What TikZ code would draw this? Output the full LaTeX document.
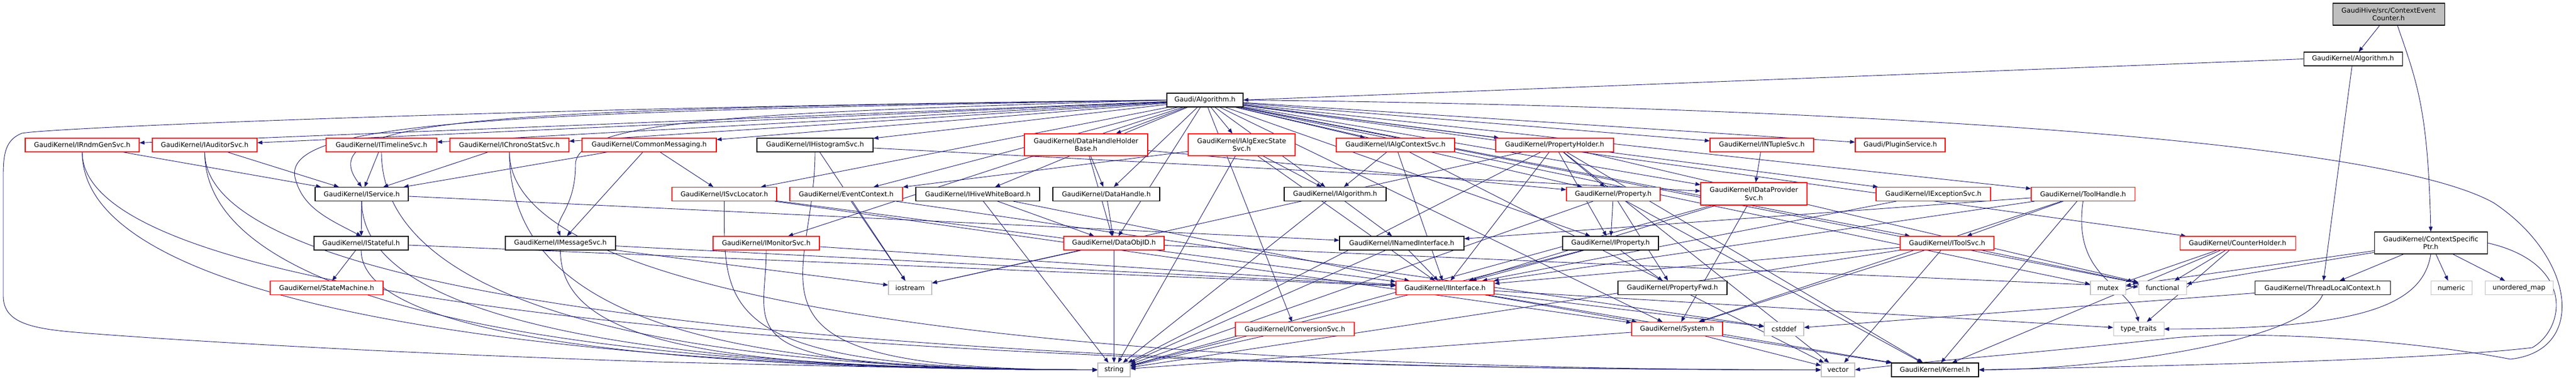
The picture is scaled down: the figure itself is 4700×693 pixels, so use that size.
\documentclass[tikz,border=0pt]{standalone}
\usepackage{fontspec}
\setmainfont{DejaVu Sans}
\usetikzlibrary{arrows.meta}
\definecolor{edgec}{HTML}{191970}
\definecolor{rootfill}{HTML}{BFBFBF}
\definecolor{graybd}{HTML}{BFBFBF}
\pgfdeclarelayer{bgfill}
\pgfdeclarelayer{bg}
\pgfsetlayers{bgfill,bg,main}
\newcommand\tostrl[2][260]{\draw[e] (#2.south) .. controls +(0,-#1) and +(-700,0) .. (string.west);}
\newcommand\tovecl[2][300]{\draw[e] (#2.south) .. controls +(0,-#1) and +(-900,0) .. (vector.west);}
\begin{document}
\begin{tikzpicture}[x=1pt,y=1pt,
  nb/.style={draw=black, fill=white, line width=1.1pt, minimum height=25pt, inner sep=1pt,
             font=\fontsize{12.2}{14.5}\selectfont, align=center},
  nr/.style={nb, draw=red},
  ng/.style={nb, draw=graybd},
  e/.style={draw=edgec, line width=0.9pt, -{Triangle[length=9pt,width=7pt]}}]
\begin{pgfonlayer}{bgfill}
\fill[white] (0,0) rectangle (4700,-693);
\end{pgfonlayer}
\useasboundingbox (0,0) rectangle (4700,-693);
% top
\node[nb, fill=rootfill, minimum width=204pt, minimum height=40pt] (CEC) at (4358,-26) {GaudiHive/src/ContextEvent\\Counter.h};
\node[nb, minimum width=180pt] (GKAlg) at (4293,-107.5) {GaudiKernel/Algorithm.h};
\node[nb, minimum width=139pt] (GAlg) at (2198.5,-182.5) {Gaudi/Algorithm.h};
% row 1
\node[nr, minimum width=208pt] (RndmGen) at (150,-264.5) {GaudiKernel/IRndmGenSvc.h};
\node[nr, minimum width=191pt] (Auditor) at (373.5,-264.5) {GaudiKernel/IAuditorSvc.h};
\node[nr, minimum width=202pt] (Timeline) at (696,-264.5) {GaudiKernel/ITimelineSvc.h};
\node[nr, minimum width=217pt] (Chrono) at (929.5,-264.5) {GaudiKernel/IChronoStatSvc.h};
\node[nr, minimum width=245pt] (CommonMsg) at (1184.5,-264.5) {GaudiKernel/CommonMessaging.h};
\node[nb, minimum width=212pt] (Histo) at (1487,-264.5) {GaudiKernel/IHistogramSvc.h};
\node[nr, minimum width=225pt, minimum height=40pt] (DHHB) at (1981.5,-264) {GaudiKernel/DataHandleHolder\\Base.h};
\node[nr, minimum width=195pt, minimum height=40pt] (AlgExec) at (2265.5,-264) {GaudiKernel/IAlgExecState\\Svc.h};
\node[nr, minimum width=216pt] (AlgCtx) at (2546,-264.5) {GaudiKernel/IAlgContextSvc.h};
\node[nr, minimum width=215pt] (PropHolder) at (2836.5,-264.5) {GaudiKernel/PropertyHolder.h};
\node[nr, minimum width=189pt] (NTuple) at (3214.5,-264.5) {GaudiKernel/INTupleSvc.h};
\node[nr, minimum width=164pt] (Plugin) at (3467,-264.5) {Gaudi/PluginService.h};
% row 2
\node[nb, minimum width=170pt] (IService) at (660,-354) {GaudiKernel/IService.h};
\node[nr, minimum width=191pt] (SvcLoc) at (1321.5,-354) {GaudiKernel/ISvcLocator.h};
\node[nr, minimum width=206pt] (EvtCtx) at (1544,-354) {GaudiKernel/EventContext.h};
\node[nb, minimum width=226pt] (HiveWB) at (1784,-354) {GaudiKernel/IHiveWhiteBoard.h};
\node[nb, minimum width=195pt] (DataHandle) at (2018.5,-354) {GaudiKernel/DataHandle.h};
\node[nb, minimum width=186pt] (IAlgorithm) at (2436,-354) {GaudiKernel/IAlgorithm.h};
\node[nr, minimum width=171pt] (Property) at (2943.5,-354) {GaudiKernel/Property.h};
\node[nr, minimum width=194pt, minimum height=41pt] (DataProv) at (3200,-353.5) {GaudiKernel/IDataProvider\\Svc.h};
\node[nr, minimum width=209pt] (ExcSvc) at (3527.5,-354) {GaudiKernel/IExceptionSvc.h};
\node[nr, minimum width=189pt] (ToolHandle) at (3800.5,-354) {GaudiKernel/ToolHandle.h};
% row 3
\node[nb, minimum width=172pt] (IStateful) at (659,-443.5) {GaudiKernel/IStateful.h};
\node[nb, minimum width=201pt] (MsgSvc) at (1022.5,-443.5) {GaudiKernel/IMessageSvc.h};
\node[nr, minimum width=194pt] (MonSvc) at (1398,-443.5) {GaudiKernel/IMonitorSvc.h};
\node[nr, minimum width=183pt] (DataObjID) at (2032.5,-443.5) {GaudiKernel/DataObjID.h};
\node[nb, minimum width=227pt] (INamed) at (2557.5,-443.5) {GaudiKernel/INamedInterface.h};
\node[nb, minimum width=175pt] (IProperty) at (2938.5,-443.5) {GaudiKernel/IProperty.h};
\node[nr, minimum width=171pt] (ToolSvc) at (3552.5,-443.5) {GaudiKernel/IToolSvc.h};
\node[nr, minimum width=211pt] (CounterH) at (4082.5,-443.5) {GaudiKernel/CounterHolder.h};
\node[nb, minimum width=206pt, minimum height=40pt] (CSP) at (4435,-443) {GaudiKernel/ContextSpecific\\Ptr.h};
% row 4
\node[nr, minimum width=206pt] (StateM) at (596,-525) {GaudiKernel/StateMachine.h};
\node[ng, minimum width=79pt] (iostream) at (1660.5,-525) {iostream};
\node[nr, minimum width=179pt] (IInterface) at (2636.5,-525) {GaudiKernel/IInterface.h};
\node[nb, minimum width=199pt] (PropFwd) at (3051.5,-525) {GaudiKernel/PropertyFwd.h};
\node[ng, minimum width=64pt] (mutex) at (3846,-525) {mutex};
\node[ng, minimum width=87pt] (functional) at (3945.5,-525) {functional};
\node[nb, minimum width=247pt] (TLC) at (4237.5,-525) {GaudiKernel/ThreadLocalContext.h};
\node[ng, minimum width=75pt] (numeric) at (4472.5,-525) {numeric};
\node[ng, minimum width=124pt] (umap) at (4596,-525) {unordered\_map};
% row 5
\node[nr, minimum width=217pt] (ConvSvc) at (2362.5,-600) {GaudiKernel/IConversionSvc.h};
\node[nr, minimum width=166pt] (System) at (3060,-600) {GaudiKernel/System.h};
\node[ng, minimum width=72pt] (cstddef) at (3255,-600) {cstddef};
\node[ng, minimum width=92pt] (typetraits) at (3902,-600) {type\_traits};
% row 6
\node[ng, minimum width=59pt] (string) at (2032.5,-674.5) {string};
\node[ng, minimum width=61pt] (vector) at (3353.5,-674.5) {vector};
\node[nb, minimum width=159pt] (Kernel) at (3530.5,-674.5) {GaudiKernel/Kernel.h};

\begin{pgfonlayer}{bg}
% top edges
\draw[e] (CEC) -- (GKAlg);
\coordinate (cecb) at (4374,-46);
\draw[e] (cecb) .. controls (4410,-150) and (4430,-200) .. (CSP.north);
\draw[e] (GKAlg.west) -- (GAlg.east);
\draw[e] (GKAlg) -- (TLC);
% Gaudi/Algorithm.h fan
\foreach \t in {RndmGen,Auditor,Timeline,Chrono,CommonMsg,Histo,DHHB,AlgExec,AlgCtx,PropHolder,NTuple,Plugin,SvcLoc,EvtCtx,HiveWB,DataHandle,IAlgorithm,Property,DataProv,ExcSvc,ToolHandle,MonSvc,DataObjID,IProperty,ToolSvc,CounterH,ConvSvc,System,functional,mutex}
  \draw[e] (GAlg) -- (\t);
\draw[e] (GAlg.west) .. controls (900,-200) and (560,-212) .. (IService.north);
\draw[e] (GAlg.west) .. controls (900,-205) and (500,-220) .. (540,-330)
   .. controls (555,-380) and (600,-400) .. (IStateful.north);
\draw[e] (GAlg.west) .. controls (1400,-205) and (1050,-215) .. (1050,-300)
   .. controls (1050,-380) and (1010,-400) .. (MsgSvc.north);
\draw[e] (GAlg.west) .. controls (1000,-195) and (100,-232) .. (40,-243)
   .. controls (10,-255) and (6,-280) .. (6,-320) -- (6,-540)
   .. controls (6,-590) and (60,-600) .. (150,-607)
   .. controls (250,-615) and (600,-640) .. (1200,-660)
   .. controls (1600,-670) and (1800,-673) .. (string.west);
\draw[e] (GAlg.east) .. controls (3000,-190) and (4300,-230) .. (4550,-370)
   .. controls (4700,-470) and (4720,-640) .. (4580,-655)
   .. controls (4400,-620) and (4100,-600) .. (3950,-618)
   .. controls (3700,-645) and (3500,-660) .. (vector.east);
% row 1 sources
\draw[e] (RndmGen) -- (IService);
\tostrl[330]{RndmGen}
\tovecl[360]{RndmGen}
\draw[e] (Auditor) -- (IService);
\tostrl[330]{Auditor}
\tovecl[360]{Auditor}
\draw[e] (Timeline) -- (IService);
\tostrl[300]{Timeline}
\draw[e] (Chrono) -- (IService);
\tostrl[300]{Chrono}
\tovecl[340]{Chrono}
\draw[e] (CommonMsg) -- (IService);
\draw[e] (CommonMsg) -- (SvcLoc);
\draw[e] (CommonMsg) -- (MsgSvc);
\draw[e] (Histo) -- (DataProv);
\draw[e] (Histo) -- (iostream);
\tostrl[250]{Histo}
\draw[e] (DHHB) -- (DataHandle);
\draw[e] (DHHB) -- (DataObjID);
\draw[e] (DHHB) -- (Property);
\draw[e] (AlgExec) -- (IAlgorithm);
\draw[e] (AlgExec) -- (IInterface);
\draw[e] (AlgExec) -- (EvtCtx);
\draw[e] (AlgExec) -- (string);
\draw[e] (AlgCtx) -- (IAlgorithm);
\draw[e] (AlgCtx) -- (IInterface);
\draw[e] (AlgCtx) -- (vector);
\draw[e] (PropHolder) -- (Property);
\draw[e] (PropHolder) -- (IProperty);
\draw[e] (PropHolder) -- (IInterface);
\draw[e] (PropHolder) -- (iostream);
\draw[e] (PropHolder) -- (string);
\draw[e] (PropHolder) -- (vector);
\draw[e] (PropHolder) -- (Kernel);
\draw[e] (PropHolder) -- (functional);
\draw[e] (NTuple) -- (DataProv);
% row 2 sources
\draw[e] (IService) -- (IStateful);
\draw[e] (IService) -- (INamed);
\tostrl[240]{IService}
\draw[e] (SvcLoc) -- (IInterface);
\draw[e] (SvcLoc) -- (System);
\tostrl[200]{SvcLoc}
\draw[e] (EvtCtx) -- (iostream);
\draw[e] (EvtCtx) -- (cstddef);
\draw[e] (HiveWB) -- (DataObjID);
\draw[e] (HiveWB) -- (IInterface);
\draw[e] (HiveWB) -- (string);
\draw[e] (DataHandle) -- (DataObjID);
\draw[e] (IAlgorithm) -- (INamed);
\draw[e] (IAlgorithm) -- (string);
\draw[e] (Property) -- (IProperty);
\draw[e] (Property) -- (PropFwd);
\draw[e] (Property) -- (string);
\draw[e] (Property) -- (Kernel);
\draw[e] (DataProv) -- (IInterface);
\draw[e] (DataProv) -- (System);
\draw[e] (DataProv) -- (string);
\draw[e] (ExcSvc) -- (IInterface);
\draw[e] (ToolHandle) -- (ToolSvc);
\draw[e] (ToolHandle) -- (INamed);
\draw[e] (ToolHandle) -- (IInterface);
\draw[e] (ToolHandle) -- (System);
\draw[e] (ToolHandle.south) .. controls +(-20,-140) and +(-20,70) .. (typetraits.north);
\draw[e] (ToolHandle) -- (Kernel);
% row 3 sources
\draw[e] (IStateful) -- (StateM);
\draw[e] (IStateful) -- (IInterface);
\tostrl[170]{IStateful}
\draw[e] (MsgSvc) -- (IInterface);
\draw[e] (MsgSvc) -- (iostream);
\tostrl[170]{MsgSvc}
\draw[e] (MonSvc) -- (IInterface);
\tostrl[160]{MonSvc}
\draw[e] (DataObjID) -- (iostream);
\draw[e] (DataObjID) -- (string);
\draw[e] (DataObjID) -- (functional);
\draw[e] (INamed) -- (IInterface);
\draw[e] (INamed) -- (string);
\draw[e] (IProperty) -- (IInterface);
\draw[e] (IProperty) -- (PropFwd);
\draw[e] (IProperty) -- (string);
\draw[e] (ToolSvc) -- (IInterface);
\draw[e] (ToolSvc) -- (System);
\draw[e] (ToolSvc) -- (functional);
\draw[e] (ToolSvc) -- (vector);
\draw[e] (ToolSvc) -- (string);
\draw[e] (CounterH) -- (mutex);
\draw[e] (CounterH) -- (functional);
\draw[e] (CounterH) -- (typetraits);
\draw[e] (CounterH) -- (Kernel);
\draw[e] (CSP) -- (mutex);
\draw[e] (CSP) -- (functional);
\draw[e] (CSP) -- (TLC);
\draw[e] (CSP) -- (numeric);
\draw[e] (CSP) -- (umap);
\draw[e] (CSP.south) .. controls (4420,-560) and (4300,-600) .. (typetraits.east);
\draw[e] (CSP.east) .. controls (4700,-480) and (4680,-600) .. (4620,-634)
   .. controls (4400,-660) and (3800,-670) .. (Kernel.east);
% row 4/5 sources
\draw[e] (TLC.south) .. controls +(-40,-90) and +(200,0) .. (Kernel.east);
\draw[e] (TLC) -- (cstddef);
\draw[e] (IInterface) -- (System);
\draw[e] (IInterface) -- (cstddef);
\draw[e] (IInterface) -- (Kernel);
\draw[e] (IInterface) -- (typetraits);
\draw[e] (System) -- (string);
\draw[e] (System) -- (vector);
\draw[e] (System) -- (Kernel);
\draw[e] (ConvSvc) -- (string);
\end{pgfonlayer}
\end{tikzpicture}
\end{document}
